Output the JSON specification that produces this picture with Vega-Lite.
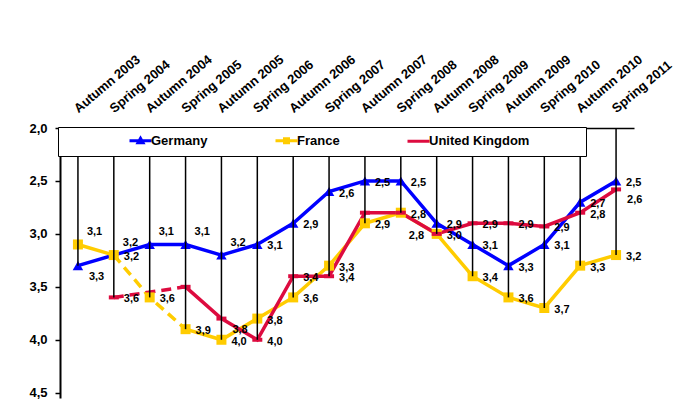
{
  "$schema": "https://vega.github.io/schema/vega-lite/v6.json",
  "autosize": "none",
  "width": 574,
  "height": 270,
  "padding": {"left": 60, "top": 128, "right": 46, "bottom": 1},
  "background": "white",
  "config": {
    "view": {"stroke": null},
    "font": "Liberation Sans",
    "axis": {"labelFont": "Liberation Sans", "labelFontWeight": "bold", "labelFontSize": 13, "labelColor": "black", "domainColor": "black", "tickColor": "black", "grid": false, "title": null}
  },
  "data": {"values": [
    {"s": "Germany", "p": "Autumn 2003", "v": 3.3},
    {"s": "Germany", "p": "Spring 2004", "v": 3.2},
    {"s": "Germany", "p": "Autumn 2004", "v": 3.1},
    {"s": "Germany", "p": "Spring 2005", "v": 3.1},
    {"s": "Germany", "p": "Autumn 2005", "v": 3.2},
    {"s": "Germany", "p": "Spring 2006", "v": 3.1},
    {"s": "Germany", "p": "Autumn 2006", "v": 2.9},
    {"s": "Germany", "p": "Spring 2007", "v": 2.6},
    {"s": "Germany", "p": "Autumn 2007", "v": 2.5},
    {"s": "Germany", "p": "Spring 2008", "v": 2.5},
    {"s": "Germany", "p": "Autumn 2008", "v": 2.9},
    {"s": "Germany", "p": "Spring 2009", "v": 3.1},
    {"s": "Germany", "p": "Autumn 2009", "v": 3.3},
    {"s": "Germany", "p": "Spring 2010", "v": 3.1},
    {"s": "Germany", "p": "Autumn 2010", "v": 2.7},
    {"s": "Germany", "p": "Spring 2011", "v": 2.5},
    {"s": "France", "p": "Autumn 2003", "v": 3.1},
    {"s": "France", "p": "Spring 2004", "v": 3.2},
    {"s": "France", "p": "Autumn 2004", "v": 3.6},
    {"s": "France", "p": "Spring 2005", "v": 3.9},
    {"s": "France", "p": "Autumn 2005", "v": 4.0},
    {"s": "France", "p": "Spring 2006", "v": 3.8},
    {"s": "France", "p": "Autumn 2006", "v": 3.6},
    {"s": "France", "p": "Spring 2007", "v": 3.3},
    {"s": "France", "p": "Autumn 2007", "v": 2.9},
    {"s": "France", "p": "Spring 2008", "v": 2.8},
    {"s": "France", "p": "Autumn 2008", "v": 3.0},
    {"s": "France", "p": "Spring 2009", "v": 3.4},
    {"s": "France", "p": "Autumn 2009", "v": 3.6},
    {"s": "France", "p": "Spring 2010", "v": 3.7},
    {"s": "France", "p": "Autumn 2010", "v": 3.3},
    {"s": "France", "p": "Spring 2011", "v": 3.2},
    {"s": "United Kingdom", "p": "Spring 2004", "v": 3.6},
    {"s": "United Kingdom", "p": "Spring 2005", "v": 3.5},
    {"s": "United Kingdom", "p": "Autumn 2005", "v": 3.8},
    {"s": "United Kingdom", "p": "Spring 2006", "v": 4.0},
    {"s": "United Kingdom", "p": "Autumn 2006", "v": 3.4},
    {"s": "United Kingdom", "p": "Spring 2007", "v": 3.4},
    {"s": "United Kingdom", "p": "Autumn 2007", "v": 2.8},
    {"s": "United Kingdom", "p": "Spring 2008", "v": 2.8},
    {"s": "United Kingdom", "p": "Autumn 2008", "v": 3.0},
    {"s": "United Kingdom", "p": "Spring 2009", "v": 2.9},
    {"s": "United Kingdom", "p": "Autumn 2009", "v": 2.9},
    {"s": "United Kingdom", "p": "Spring 2010", "v": 2.93},
    {"s": "United Kingdom", "p": "Autumn 2010", "v": 2.8},
    {"s": "United Kingdom", "p": "Spring 2011", "v": 2.58}
  ]},
  "transform": [
    {"calculate": "replace(format(datum.v, '.1f'), '.', ',')", "as": "lbl"},
    {"calculate": "datum.s + '|' + datum.p", "as": "key"}
  ],
  "encoding": {
    "x": {"field": "p", "type": "ordinal",
      "scale": {"type": "point", "padding": 0.5, "domain": ["Autumn 2003","Spring 2004","Autumn 2004","Spring 2005","Autumn 2005","Spring 2006","Autumn 2006","Spring 2007","Autumn 2007","Spring 2008","Autumn 2008","Spring 2009","Autumn 2009","Spring 2010","Autumn 2010","Spring 2011"]},
      "axis": {"orient": "top", "labelAngle": -40, "labelAlign": "left", "labelBaseline": "alphabetic", "ticks": false, "labelPadding": 15, "domainWidth": 1.5}},
    "y": {"field": "v", "type": "quantitative",
      "scale": {"domain": [2, 4.55], "reverse": true, "nice": false, "zero": false},
      "axis": {"values": [2, 2.5, 3, 3.5, 4, 4.5], "labelExpr": "replace(format(datum.value, '.1f'), '.', ',')", "tickSize": 5, "tickWidth": 1.5, "labelPadding": 8, "domainWidth": 2}}
  },
  "layer": [
    {
      "transform": [
        {"filter": "!(datum.s != 'Germany' && datum.p == 'Autumn 2004') && !(datum.s == 'United Kingdom' && datum.p == 'Spring 2004')"},
        {"calculate": "(datum.s != 'Germany' && (datum.p == 'Autumn 2003' || datum.p == 'Spring 2004')) ? 'early' : 'late'", "as": "seg"}
      ],
      "mark": {"type": "line", "strokeWidth": 3.5},
      "encoding": {
        "color": {"field": "s", "type": "nominal", "scale": {"domain": ["Germany", "France", "United Kingdom"], "range": ["#0000ff", "#ffcc00", "#dd0b3f"]}},
        "detail": {"field": "seg"},
        "order": {"value": null}
      }
    },
    {
      "transform": [
        {"filter": "datum.s != 'Germany' && indexof(['Spring 2004', 'Autumn 2004', 'Spring 2005'], datum.p) >= 0"}
      ],
      "mark": {"type": "line", "strokeWidth": 3.5, "strokeDash": [10, 6]},
      "encoding": {
        "color": {"field": "s", "type": "nominal"},
        "order": {"value": null}
      }
    },
    {
      "transform": [{"filter": "datum.s == 'Germany'"}],
      "mark": {"type": "point", "shape": "triangle-up", "filled": true, "opacity": 1, "size": 110},
      "encoding": {"color": {"field": "s", "type": "nominal"}}
    },
    {
      "transform": [{"filter": "datum.s == 'France'"}],
      "mark": {"type": "point", "shape": "square", "filled": true, "opacity": 1, "size": 100},
      "encoding": {"color": {"field": "s", "type": "nominal"}}
    },
    {
      "transform": [{"filter": "datum.s == 'United Kingdom'"}],
      "mark": {"type": "point", "shape": "M-1,-0.4H1V0.4H-1Z", "filled": true, "opacity": 1, "size": 100},
      "encoding": {"color": {"field": "s", "type": "nominal"}}
    },
    {
      "mark": {"type": "point", "filled": false, "opacity": 0, "size": 100},
      "encoding": {
        "color": {"field": "s", "type": "nominal",
          "legend": {
            "orient": "none", "legendX": -2, "legendY": -1, "direction": "horizontal",
            "title": "\u00a0", "titleOrient": "right", "titlePadding": 50, "titleFontSize": 13,
            "fillColor": "white", "strokeColor": "black", "padding": 7,
            "symbolSize": 100, "symbolOffset": 69, "labelOffset": 4, "columnPadding": 3,
            "labelFont": "Liberation Sans", "labelFontWeight": "bold", "labelFontSize": 13, "labelColor": "black",
            "symbolStrokeWidth": 3, "symbolOpacity": 1
          }},
        "shape": {"field": "s", "type": "nominal", "scale": {"domain": ["Germany", "France", "United Kingdom"], "range": ["M-2.2,0H2.2M-0.5,0.4H0.5L0,-0.5Z", "M-2.2,0H2.2M-0.4,-0.4H0.4V0.4H-0.4Z", "M-2.2,0H2.2"]}}
      }
    },
    {
      "transform": [
        {"aggregate": [{"op": "max", "field": "v", "as": "vmax"}], "groupby": ["p"]}
      ],
      "mark": {"type": "rule", "color": "black", "strokeWidth": 1.5},
      "encoding": {
        "y": {"field": "vmax", "type": "quantitative"},
        "y2": {"datum": 2}
      }
    },
    {
      "transform": [
        {"filter": "indexof(['Germany|Autumn 2003', 'Germany|Spring 2004', 'Germany|Autumn 2004', 'Germany|Spring 2005', 'Germany|Autumn 2005', 'France|Autumn 2003', 'France|Spring 2008', 'United Kingdom|Autumn 2005', 'United Kingdom|Spring 2011', 'United Kingdom|Spring 2005', 'United Kingdom|Autumn 2007', 'United Kingdom|Autumn 2008'], datum.key) < 0"}
      ],
      "mark": {"type": "text", "dx": 10, "dy": 2, "align": "left", "baseline": "middle", "font": "Liberation Sans", "fontWeight": "bold", "fontSize": 11, "color": "black"},
      "encoding": {"text": {"field": "lbl"}}
    },
    {
      "transform": [
        {"filter": "indexof(['Germany|Spring 2004', 'Germany|Autumn 2004', 'Germany|Spring 2005', 'Germany|Autumn 2005', 'France|Autumn 2003'], datum.key) >= 0"}
      ],
      "mark": {"type": "text", "dx": 9, "dy": -12, "align": "left", "baseline": "middle", "font": "Liberation Sans", "fontWeight": "bold", "fontSize": 11, "color": "black"},
      "encoding": {"text": {"field": "lbl"}}
    },
    {
      "transform": [
        {"filter": "indexof(['Germany|Autumn 2003', 'United Kingdom|Autumn 2005', 'United Kingdom|Spring 2011'], datum.key) >= 0"}
      ],
      "mark": {"type": "text", "dx": 11, "dy": 11, "align": "left", "baseline": "middle", "font": "Liberation Sans", "fontWeight": "bold", "fontSize": 11, "color": "black"},
      "encoding": {"text": {"field": "lbl"}}
    },
    {
      "transform": [
        {"filter": "datum.key == 'France|Spring 2008'"}
      ],
      "mark": {"type": "text", "dx": 8, "dy": 23, "align": "left", "baseline": "middle", "font": "Liberation Sans", "fontWeight": "bold", "fontSize": 11, "color": "black"},
      "encoding": {"text": {"field": "lbl"}}
    }
  ]
}
